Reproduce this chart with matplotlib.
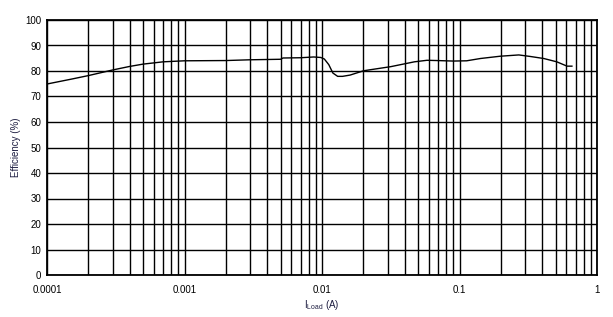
import numpy as np
import matplotlib.pyplot as plt
from matplotlib.ticker import FixedLocator, NullFormatter

plt.rcParams['font.family'] = ['Liberation Sans', 'DejaVu Sans']

# efficiency curve
i_load = [0.0001, 0.00015, 0.0002, 0.0003, 0.0004, 0.0005, 0.0007, 0.001, 0.002,
          0.003, 0.005, 0.0052, 0.007, 0.0087, 0.0098, 0.0104, 0.0112, 0.0120,
          0.0130, 0.0141, 0.0160, 0.0201, 0.0316, 0.047, 0.058, 0.0687, 0.09,
          0.1127, 0.142, 0.198, 0.27, 0.327, 0.41, 0.51, 0.606, 0.657]
eff = [74.9, 76.8, 78.2, 80.4, 81.8, 82.7, 83.6, 84.0, 84.1,
       84.4, 84.6, 85.1, 85.2, 85.5, 85.3, 84.7, 82.5, 79.2,
       77.9, 77.9, 78.4, 80.1, 81.7, 83.6, 84.2, 84.1, 83.9,
       84.0, 84.9, 85.8, 86.3, 85.7, 84.9, 83.6, 81.9, 81.9]

x_ticks = [0.0001, 0.001, 0.01, 0.1, 1]
x_labels = ['0.0001', '0.001', '0.01', '0.1', '1']
y_ticks = list(range(0, 101, 10))

fig = plt.figure(figsize=(6.13, 3.17), dpi=100)
ax = fig.add_axes([47 / 613, 42 / 317, 550 / 613, 255 / 317])

ax.plot(i_load, eff, color='black', lw=1.0)

ax.set_xscale('log')
ax.set_xlim(0.0001, 1)
ax.set_ylim(0, 100)
ax.set_xticks(x_ticks)
ax.set_xticklabels(x_labels)
minor = [m * 10.0 ** e for e in range(-4, 0) for m in range(2, 10)]
ax.xaxis.set_minor_locator(FixedLocator(minor))
ax.xaxis.set_minor_formatter(NullFormatter())
ax.set_yticks(y_ticks)

ax.grid(True, which='both', color='black', lw=1.0)
ax.set_axisbelow(True)
ax.tick_params(which='both', length=0, labelsize=7)
ax.tick_params(axis='x', pad=7)
ax.tick_params(axis='y', pad=4)
for s in ax.spines.values():
    s.set_linewidth(1.3)

ax.set_xlabel(r'I$_{\mathregular{Load}}$ (A)', fontsize=7, labelpad=2, color='#1c1c40')
ax.set_ylabel('Efficiency (%)', fontsize=7, labelpad=3, color='#1c1c40')

fig.savefig('out.png', dpi=100)
